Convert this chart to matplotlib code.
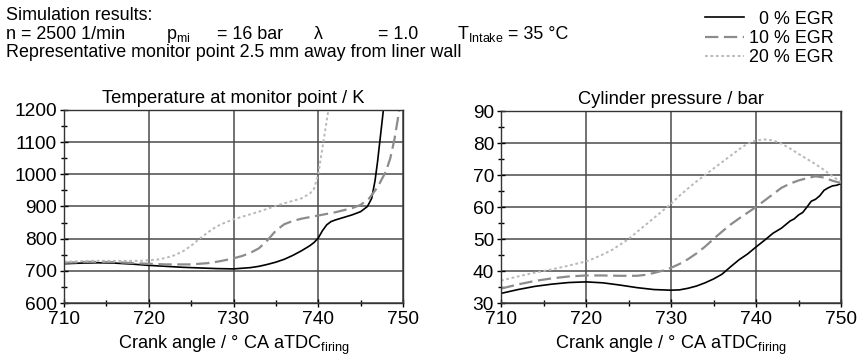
import matplotlib
matplotlib.use('Agg')
import matplotlib.pyplot as plt

plt.rcParams['font.family'] = ['Liberation Sans', 'DejaVu Sans']
plt.rcParams['mathtext.fontset'] = 'custom'
plt.rcParams['mathtext.rm'] = 'Liberation Sans'
plt.rcParams['mathtext.it'] = 'Liberation Sans:italic'
plt.rcParams['font.size'] = 13

# temperature at monitor point / K
ca_t0 = [710, 712, 714, 716, 718, 720, 722, 724, 726, 728, 730, 732, 733, 734, 735, 736, 737, 738,
         739, 739.5, 740, 740.5, 741, 741.5, 742, 743, 744, 745, 745.8, 746.3, 746.7, 747, 747.3, 747.6, 747.8]
temp_0 = [722, 724, 725, 724, 721, 717, 714, 711, 709, 707, 706, 710, 714, 720, 727, 736, 748, 762,
          778, 788, 802, 825, 843, 853, 858, 866, 874, 884, 900, 925, 980, 1040, 1110, 1180, 1230]

ca_t10 = [710, 713, 716, 719, 722, 725, 727, 728, 729, 730, 731, 732, 733, 734, 735, 736, 737, 738,
          740, 742, 744, 745, 746, 747, 747.5, 748, 748.5, 749, 749.5, 749.7]
temp_10 = [725, 728, 727, 723, 720, 720, 724, 728, 733, 739, 746, 756, 770, 795, 825, 845, 855, 862,
           872, 882, 895, 905, 925, 960, 985, 1010, 1050, 1110, 1190, 1230]

ca_t20 = [710, 713, 716, 719, 721, 722, 723, 724, 725, 726, 727, 728, 729, 730, 731, 732, 733, 734,
          735, 736, 738, 739, 739.5, 740, 740.3, 740.6, 740.9, 741.2, 741.4]
temp_20 = [728, 731, 731, 731, 735, 740, 748, 760, 778, 800, 820, 838, 850, 860, 868, 876, 884, 893,
           902, 910, 925, 940, 955, 1000, 1050, 1100, 1150, 1200, 1240]

# cylinder pressure / bar
ca_p0 = [710, 712, 714, 716, 718, 720, 722, 724, 726, 728, 730, 731, 732, 733, 734, 735, 736, 737,
         738, 739, 740, 741, 742, 743, 744, 744.5, 745, 745.5, 746, 746.5, 747, 747.5, 748, 748.5,
         749, 749.5, 750]
pres_0 = [33.0, 34.2, 35.2, 35.9, 36.4, 36.6, 36.3, 35.6, 34.8, 34.2, 34.0, 34.1, 34.6, 35.3, 36.3,
          37.5, 39.0, 41.3, 43.5, 45.3, 47.5, 49.6, 51.8, 53.4, 55.6, 56.3, 57.5, 58.3, 60.0, 61.8,
          62.4, 63.5, 65.2, 66.0, 66.6, 66.8, 67.3]

ca_p10 = [710, 712, 714, 716, 718, 720, 722, 724, 726, 727, 728, 729, 730, 731, 732, 733, 734, 735,
          736, 737, 738, 739, 740, 741, 742, 743, 744, 745, 746, 747, 748, 749, 750]
pres_10 = [34.5, 35.8, 36.9, 37.7, 38.3, 38.6, 38.6, 38.5, 38.5, 38.8, 39.4, 40.1, 41.0, 42.2, 43.7,
           45.5, 47.6, 50.0, 52.3, 54.5, 56.4, 58.2, 60.0, 62.0, 64.0, 66.0, 67.3, 68.3, 69.0, 69.6,
           69.2, 68.2, 67.5]

ca_p20 = [710, 712, 714, 716, 718, 720, 721, 722, 723, 724, 725, 726, 727, 728, 729, 730, 731, 732,
          733, 734, 735, 736, 737, 738, 739, 740, 741, 742, 743, 744, 745, 746, 747, 748, 749, 750]
pres_20 = [37.0, 38.3, 39.5, 40.5, 41.7, 43.0, 44.0, 45.2, 46.5, 48.2, 50.0, 52.2, 54.4, 56.6, 58.8,
           61.0, 63.5, 65.8, 68.0, 70.0, 72.0, 74.0, 76.0, 78.0, 79.8, 80.8, 81.1, 80.8, 79.8, 78.3,
           76.6, 75.0, 73.4, 71.6, 69.6, 67.8]

labels = ['\u20070 % EGR', '10 % EGR', '20 % EGR']
styles = [dict(color='black', lw=1.2, ls='-'),
          dict(color='#8c8c8c', lw=1.6, ls=(0, (6, 2.5))),
          dict(color='#b8b8b8', lw=1.4, ls=(0, (1.4, 1.4)))]

W, H = 861, 362
fig = plt.figure(figsize=(W / 100, H / 100), dpi=100)

ax1 = fig.add_axes([64 / W, 1 - 303 / H, 339 / W, 193 / H])
ax2 = fig.add_axes([501 / W, 1 - 303 / H, 340 / W, 192 / H])

for (x, y), st, lab in zip([(ca_t0, temp_0), (ca_t10, temp_10), (ca_t20, temp_20)], styles, labels):
    ax1.plot(x, y, label=lab, **st)
for (x, y), st in zip([(ca_p0, pres_0), (ca_p10, pres_10), (ca_p20, pres_20)], styles):
    ax2.plot(x, y, **st)

ax1.set_ylim(600, 1200)
ax1.set_yticks(range(600, 1201, 100))
ax1.set_yticks(range(650, 1200, 100), minor=True)
ax2.set_ylim(30, 90)
ax2.set_yticks(range(30, 91, 10))
ax2.set_yticks(range(35, 90, 10), minor=True)

ax1.set_title('Temperature at monitor point / K', fontsize=13.2, pad=5)
ax2.set_title('Cylinder pressure / bar', fontsize=13.2, pad=5)

for ax in (ax1, ax2):
    ax.set_xlim(710, 750)
    ax.set_xticks(range(710, 751, 10))
    ax.set_xticks(range(715, 750, 10), minor=True)
    ax.grid(True, which='major', color='#4a4a4a', lw=1.1)
    ax.tick_params(which='major', direction='inout', length=6, width=1, labelsize=13.8)
    ax.tick_params(axis='x', which='major', pad=3)
    ax.tick_params(axis='y', which='major', pad=2)
    ax.tick_params(which='minor', direction='inout', length=4, width=1)
    for sp in ax.spines.values():
        sp.set_color('#333333')
        sp.set_linewidth(1)
    ax.set_xlabel(r'Crank angle / ° CA aTDC$_{\mathrm{firing}}$', fontsize=13.1, labelpad=4)

# header text
fs = 12.9
def px(x, y):
    return x / W, 1 - y / H

fig.text(*px(6, 20), 'Simulation results:', fontsize=fs, va='baseline')
fig.text(*px(6, 39), 'n = 2500 1/min', fontsize=fs, va='baseline')
fig.text(*px(166, 39), r'p$_{\mathrm{mi}}$', fontsize=fs, va='baseline')
fig.text(*px(217, 39), '= 16 bar', fontsize=fs, va='baseline')
fig.text(*px(314, 39), '\u03bb', fontsize=fs, va='baseline')
fig.text(*px(378, 39), '= 1.0', fontsize=fs, va='baseline')
fig.text(*px(457, 39), r'T$_{\mathrm{Intake}}$', fontsize=fs, va='baseline')
fig.text(*px(508, 39), '= 35 °C', fontsize=fs, va='baseline')
fig.text(*px(6, 57), 'Representative monitor point 2.5 mm away from liner wall', fontsize=fs, va='baseline')

fig.legend(loc='upper right', bbox_to_anchor=(845 / W, 1.0), frameon=False, fontsize=fs,
           handlelength=2.2, handletextpad=0.3, labelspacing=0.12, borderpad=0.1)

fig.savefig('out.png', dpi=100)
